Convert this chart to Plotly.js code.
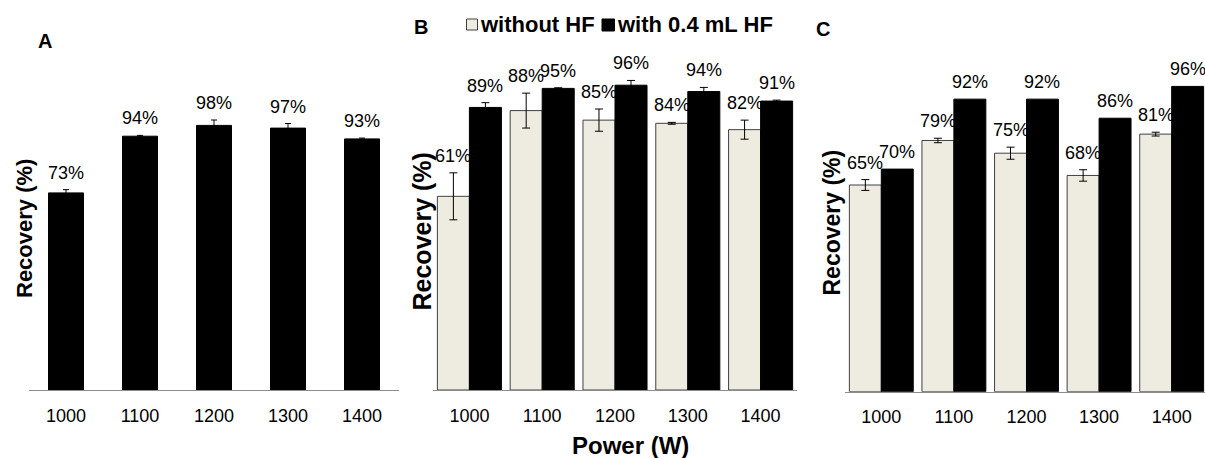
<!DOCTYPE html>
<html><head><meta charset="utf-8">
<script src="https://cdn.plot.ly/plotly-3.0.1.min.js"></script>
<style>html,body{margin:0;padding:0;background:#fff}#chart{width:1205px;height:458px}</style>
</head><body><div id="chart"></div>
<script>
// ---- data ----
const categories = ['1000', '1100', '1200', '1300', '1400'];
const aRecovery = [73, 94, 98, 97, 93];
const aError = [1.2, 0.3, 2.0, 1.7, 0.3];
const bWithout = [61, 88, 85, 84, 82];
const bWithoutError = [7.4, 5.5, 3.5, 0.3, 3.0];
const bWith = [89, 95, 96, 94, 91];
const bWithError = [1.5, 0.2, 1.5, 1.3, 0.3];
const cWithout = [65, 79, 75, 68, 81];
const cWithoutError = [1.7, 0.7, 1.9, 1.8, 0.6];
const cWith = [70, 92, 92, 86, 96];
const cWithError = [0, 0, 0, 0, 0];
const seriesNames = ['without HF', 'with 0.4 mL HF'];
const panelLetters = ['A', 'B', 'C'];
const xTitle = 'Power (W)';
const yTitle = 'Recovery (%)';

// ---- layout helpers ----
const W = 1205, H = 458;
const px = x => x / W;
const py = y => (H - y) / H;
const FONT = 'Liberation Sans, Arial, sans-serif';
const LIGHT = '#EEECE1', EDGE = '#404040', DARK = '#000000';

function bar(x, y, err, xa, ya, color, edge, width, offset, capw) {
  const t = {
    type: 'bar', x: x, y: y, xaxis: xa, yaxis: ya, width: width,
    marker: {color: color, line: {color: edge, width: 1}},
    error_y: {type: 'data', array: err, visible: err.some(e => e > 0), color: '#000', thickness: 1, width: capw},
    hoverinfo: 'skip', showlegend: false
  };
  if (offset !== null) t.offset = offset;
  return t;
}

const traces = [
  bar(categories, aRecovery, aError, 'x', 'y', DARK, DARK, 0.473, null, 3),
  bar(categories, bWithout, bWithoutError, 'x2', 'y2', LIGHT, EDGE, 0.44, -0.44, 4),
  bar(categories, bWith, bWithError, 'x2', 'y2', DARK, DARK, 0.44, 0, 4),
  bar(categories, cWithout, cWithoutError, 'x3', 'y3', LIGHT, EDGE, 0.44, -0.44, 4),
  bar(categories, cWith, cWithError, 'x3', 'y3', DARK, DARK, 0.44, 0, 4)
];

const annotations = [];
function labels(xref, yref, vals, errs, shift) {
  vals.forEach((v, i) => {
    annotations.push({
      xref: xref, yref: yref, x: i + shift, y: v + errs[i], text: v + '%',
      showarrow: false, yshift: 17, xanchor: 'center', yanchor: 'middle',
      font: {family: FONT, size: 18, color: '#000'}
    });
  });
}
labels('x', 'y', aRecovery, aError, 0);
labels('x2', 'y2', bWithout, bWithoutError, -0.22);
labels('x2', 'y2', bWith, bWithError, 0.22);
labels('x3', 'y3', cWithout, cWithoutError, -0.22);
labels('x3', 'y3', cWith, cWithError, 0.22);

function paperText(text, x, y, size, opts) {
  annotations.push(Object.assign({
    xref: 'paper', yref: 'paper', x: px(x), y: py(y), text: text, showarrow: false,
    xanchor: 'center', yanchor: 'middle',
    font: {family: FONT, size: size, color: '#000', weight: 'bold'}
  }, opts || {}));
}
paperText('<b>' + panelLetters[0] + '</b>', 45, 41, 20);
paperText('<b>' + panelLetters[1] + '</b>', 420.5, 26.5, 20);
paperText('<b>' + panelLetters[2] + '</b>', 823, 28.5, 20);
paperText('<b>' + yTitle + '</b>', 24, 229, 22, {textangle: -90});
paperText('<b>' + yTitle + '</b>', 421.5, 232, 25, {textangle: -90});
paperText('<b>' + yTitle + '</b>', 831.5, 223, 23, {textangle: -90});
paperText('<b>' + xTitle + '</b>', 630, 445, 24);
paperText('<b>' + seriesNames[0] + '</b>', 478, 25, 22, {xanchor: 'left'});
paperText('<b>' + seriesNames[1] + '</b>', 615, 25, 22, {xanchor: 'left'});

const shapes = [
  {type: 'rect', xref: 'paper', yref: 'paper', x0: px(466.5), x1: px(477.5), y0: py(30), y1: py(19),
   fillcolor: LIGHT, line: {color: EDGE, width: 1}},
  {type: 'rect', xref: 'paper', yref: 'paper', x0: px(602), x1: px(614.5), y0: py(31), y1: py(19),
   fillcolor: DARK, line: {color: DARK, width: 1}}
];

function xaxis(domain, anchor, range) {
  return {
    domain: domain, anchor: anchor, type: 'category', categoryarray: categories,
    range: range, showline: true, linecolor: '#8c8c8c', linewidth: 1,
    ticks: '', showgrid: false, zeroline: false, ticklabelstandoff: 9,
    tickfont: {family: FONT, size: 18, color: '#000'}, fixedrange: true
  };
}
function yaxis(domain, anchor, range) {
  return {
    domain: domain, anchor: anchor, range: range, showline: false, showgrid: false,
    zeroline: false, showticklabels: false, ticks: '', fixedrange: true
  };
}

const layout = {
  width: W, height: H, margin: {l: 0, r: 0, t: 0, b: 0},
  paper_bgcolor: '#fff', plot_bgcolor: 'rgba(0,0,0,0)',
  showlegend: false, hovermode: false, barmode: 'overlay',
  font: {family: FONT, color: '#000'},
  xaxis: xaxis([px(29), px(399)], 'y', [-0.5, 4.5]),
  yaxis: yaxis([py(390), py(66)], 'x', [0, 120]),
  xaxis2: xaxis([px(433), px(797)], 'y2', [-0.5, 4.5]),
  yaxis2: yaxis([py(390), py(72.5)], 'x2', [0, 100]),
  xaxis3: xaxis([px(845), 1], 'y3', [-0.5, 4.459]),
  yaxis3: yaxis([py(391.7), py(73.7)], 'x3', [0, 100]),
  annotations: annotations, shapes: shapes
};

Plotly.newPlot('chart', traces, layout, {displayModeBar: false, staticPlot: true});
</script>
</body></html>
